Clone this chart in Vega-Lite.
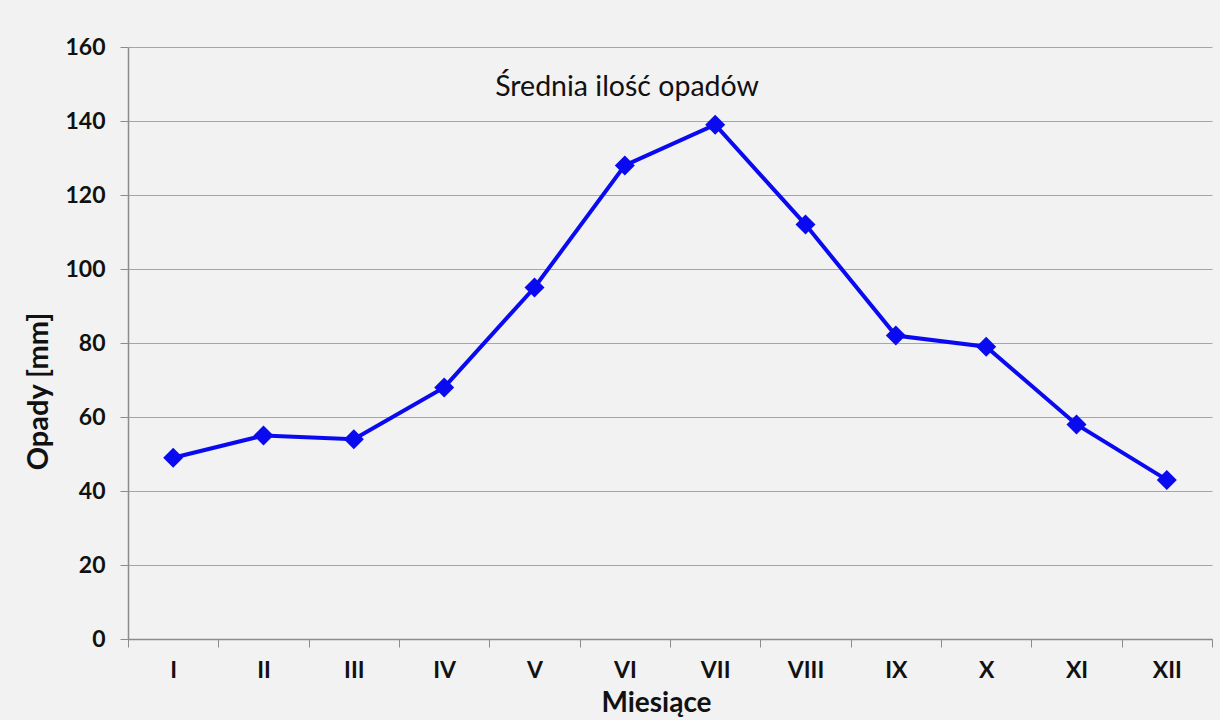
{
  "$schema": "https://vega.github.io/schema/vega-lite/v6.json",
  "width": 1084,
  "height": 592,
  "autosize": {"type": "none"},
  "padding": {"left": 128, "top": 47, "right": 8, "bottom": 81},
  "background": "#f2f2f2",
  "title": {
    "text": "Średnia ilość opadów",
    "orient": "top",
    "anchor": "middle",
    "frame": "group",
    "offset": -88,
    "baseline": "alphabetic",
    "dx": -43,
    "font": "Lato",
    "fontSize": 28.5,
    "fontWeight": "normal",
    "color": "#111111"
  },
  "config": {
    "view": {"stroke": null},
    "font": "Lato"
  },
  "data": {
    "values": [
      {"miesiac": "I", "opady": 49},
      {"miesiac": "II", "opady": 55},
      {"miesiac": "III", "opady": 54},
      {"miesiac": "IV", "opady": 68},
      {"miesiac": "V", "opady": 95},
      {"miesiac": "VI", "opady": 128},
      {"miesiac": "VII", "opady": 139},
      {"miesiac": "VIII", "opady": 112},
      {"miesiac": "IX", "opady": 82},
      {"miesiac": "X", "opady": 79},
      {"miesiac": "XI", "opady": 58},
      {"miesiac": "XII", "opady": 43}
    ]
  },
  "encoding": {
    "x": {
      "field": "miesiac",
      "type": "ordinal",
      "sort": null,
      "bandPosition": 0.5,
      "scale": {"type": "band", "paddingInner": 0, "paddingOuter": 0},
      "axis": {
        "title": "Miesiące",
        "titleFont": "Lato",
        "titleFontSize": 28,
        "titleFontWeight": "bold",
        "titleColor": "#111111",
        "titleX": 528,
        "titleY": 72,
        "titleBaseline": "alphabetic",
        "titleAlign": "center",
        "labelAngle": 0,
        "labelFont": "Lato",
        "labelFontSize": 23,
        "labelFontWeight": "bold",
        "labelColor": "#111111",
        "labelPadding": 12,
        "tickBand": "extent",
        "tickSize": 8,
        "tickColor": "#8c8c8c",
        "domainColor": "#8c8c8c",
        "domainWidth": 1.5,
        "grid": false
      }
    },
    "y": {
      "field": "opady",
      "type": "quantitative",
      "scale": {"domain": [0, 160], "nice": false},
      "axis": {
        "title": "Opady [mm]",
        "titleFont": "Lato",
        "titleFontSize": 29,
        "titleFontWeight": "bold",
        "titleColor": "#111111",
        "titleAngle": 270,
        "titleX": -90,
        "titleY": 344,
        "titleAlign": "center",
        "titleBaseline": "middle",
        "values": [0, 20, 40, 60, 80, 100, 120, 140, 160],
        "labelFont": "Lato",
        "labelFontSize": 23,
        "labelFontWeight": "bold",
        "labelColor": "#111111",
        "labelPadding": 15,
        "tickSize": 8,
        "tickColor": "#8c8c8c",
        "domainColor": "#8c8c8c",
        "domainWidth": 1.5,
        "grid": true,
        "gridColor": "#a6a6a6",
        "gridWidth": 1.2
      }
    }
  },
  "layer": [
    {
      "mark": {"type": "line", "color": "#0a0af0", "strokeWidth": 4}
    },
    {
      "mark": {"type": "point", "shape": "diamond", "filled": true, "size": 400, "color": "#0a0af0", "opacity": 1}
    }
  ]
}
